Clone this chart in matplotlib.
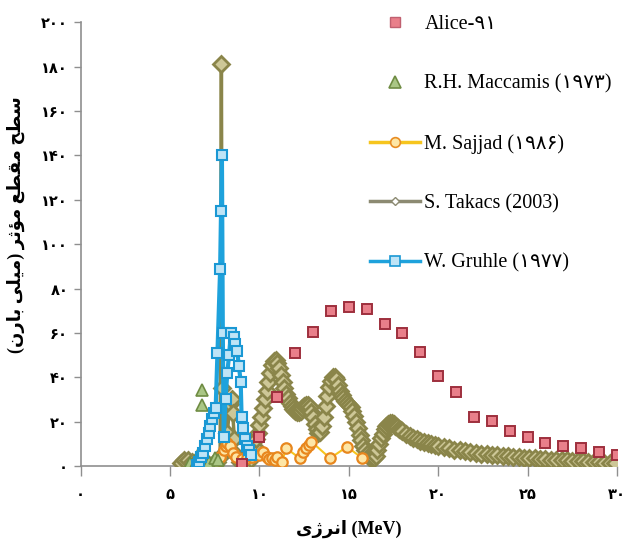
import matplotlib
matplotlib.use("Agg")
import matplotlib.pyplot as plt
from matplotlib.lines import Line2D

# ---------------- data ----------------
alice_e = [9, 10, 11, 12, 13, 14, 15, 16, 17, 18, 19, 20, 21, 22, 23, 24, 25, 26, 27, 28, 29, 30]
alice_s = [0.8, 13.2, 31.3, 51.1, 60.6, 70.0, 71.5, 70.7, 63.9, 59.8, 51.5, 40.6, 33.5, 22.3,
           20.5, 16.0, 13.2, 10.2, 9.1, 7.9, 6.4, 5.0]

maccamis_e = [6.1, 6.4, 6.58, 6.77, 6.77, 6.9, 7.2, 7.52, 7.7]
maccamis_s = [1.5, 1.0, 5.0, 27.5, 34.3, 3.0, 2.0, 3.5, 2.5]

sajjad_e = [7.5, 7.8, 8.0, 8.1, 8.2, 8.35, 8.5, 8.7, 9.0, 9.3, 9.6, 9.95, 10.2, 10.4, 10.55,
            10.7, 10.85, 11.0, 11.25, 11.5, 12.25, 12.45, 12.6, 12.75, 12.9, 13.95, 14.9, 15.75]
sajjad_s = [1.5, 4.0, 7.0, 9.0, 10.5, 9.0, 6.0, 4.0, 3.0, 3.5, 4.2, 5.0, 6.5, 4.2, 3.0,
            3.5, 2.5, 4.2, 1.9, 8.0, 3.5, 6.5, 8.0, 9.5, 11.0, 3.5, 8.7, 3.5]

takacs_e = [5.6, 5.8, 6.0, 6.2, 6.4, 6.6, 6.8, 7.0, 7.2, 7.4, 7.6, 7.8, 7.87, 7.92,
            8.2, 8.35, 8.45, 8.5, 8.6, 8.7, 8.9, 9.1, 9.3, 9.5,
            9.6, 9.7, 9.8, 9.9, 10.0, 10.1, 10.2, 10.3, 10.4, 10.5, 10.6, 10.7, 10.8, 10.9,
            11.0, 11.1, 11.2, 11.3, 11.4, 11.5, 11.6, 11.7, 11.8, 11.9,
            12.0, 12.1, 12.2, 12.3, 12.4, 12.5, 12.6, 12.7, 12.8, 12.9,
            13.0, 13.1, 13.2, 13.3, 13.4, 13.5, 13.6, 13.7, 13.8, 13.9,
            14.0, 14.1, 14.2, 14.3, 14.4, 14.5, 14.6, 14.7, 14.8, 14.9,
            15.0, 15.1, 15.2, 15.3, 15.4, 15.5, 15.6, 15.7, 15.8, 15.9,
            16.0, 16.1, 16.2, 16.3, 16.4, 16.5, 16.6, 16.7, 16.8, 16.9,
            17.0, 17.1, 17.2, 17.3, 17.4, 17.5, 17.6, 17.7, 17.8, 17.9,
            18.0, 18.2, 18.4, 18.6, 18.8, 19.0, 19.2, 19.4, 19.6, 19.8,
            20.0, 20.3, 20.6, 20.9, 21.2, 21.5, 21.8, 22.1, 22.4, 22.7,
            23.0, 23.3, 23.6, 23.9, 24.2, 24.5, 24.8, 25.1, 25.4, 25.7,
            26.0, 26.3, 26.6, 26.9, 27.2, 27.5, 27.8, 28.1, 28.4, 28.7,
            29.0, 29.3, 29.6, 29.9]
takacs_s = [1.5, 2.5, 2.5, 2.0, 1.5, 1.0, 0.5, 0.5, 0.5, 1.0, 2.0, 4.0, 181.0, 35.0,
            15.0, 28.0, 30.0, 24.0, 12.0, 5.0, 2.0, 1.5, 2.0, 3.0,
            6.0, 9.0, 12.0, 15.0, 18.5, 22.0, 26.0, 30.0, 34.0, 38.0, 42.0, 45.5, 47.5, 48.0,
            46.5, 44.0, 41.0, 38.0, 35.0, 32.5, 30.5, 28.5, 27.0, 25.5,
            24.8, 24.3, 24.3, 25.0, 26.0, 27.0, 27.5, 27.5, 26.5, 24.5,
            22.0, 19.0, 16.5, 15.0, 15.5, 18.0, 22.0, 27.0, 31.5, 35.5,
            38.5, 40.0, 40.3, 39.0, 36.5, 34.0, 32.0, 30.5, 29.5, 28.5,
            27.5, 26.5, 25.0, 22.5, 20.0, 17.0, 14.0, 11.5, 9.0, 7.0,
            5.5, 4.5, 3.8, 3.5, 3.5, 4.5, 7.0, 10.0, 12.5, 14.5,
            16.5, 18.0, 19.0, 19.3, 19.3, 18.8, 18.2, 17.5, 16.8, 16.2,
            15.6, 14.5, 13.6, 12.8, 12.1, 11.4, 10.8, 10.3, 9.8, 9.4,
            9.0, 8.4, 7.9, 7.4, 7.0, 6.6, 6.2, 5.9, 5.6, 5.3,
            5.0, 4.8, 4.6, 4.4, 4.2, 4.0, 3.8, 3.6, 3.4, 3.2,
            3.0, 2.9, 2.7, 2.6, 2.5, 2.4, 2.3, 2.1, 2.0, 1.8,
            1.6, 1.4, 1.3, 1.2]

gruhle_e = [6.5, 6.6, 6.75, 6.85, 6.95, 7.05, 7.15, 7.25, 7.35, 7.45, 7.55, 7.65, 7.8, 7.85,
            7.9, 7.95, 8.0, 8.1, 8.2, 8.3, 8.4, 8.55, 8.65, 8.75, 8.85, 8.95, 9.0, 9.1,
            9.2, 9.3, 9.4, 9.5]
gruhle_s = [0.5, 2.0, 4.0, 6.0, 9.0, 12.0, 15.0, 18.0, 21.0, 24.0, 26.0, 51.0, 89.0, 115.0,
            140.0, 60.0, 13.0, 30.0, 42.0, 50.0, 60.0, 58.0, 55.0, 52.0, 45.0, 38.0, 22.0, 17.0,
            12.0, 9.0, 7.0, 5.0]

x_ticks = [0, 5, 10, 15, 20, 25, 30]
x_ticklabels = ["۰", "۵", "۱۰", "۱۵", "۲۰", "۲۵", "۳۰"]
y_ticks = [0, 20, 40, 60, 80, 100, 120, 140, 160, 180, 200]
y_ticklabels = ["۰", "۲۰", "۴۰", "۶۰", "۸۰", "۱۰۰", "۱۲۰", "۱۴۰", "۱۶۰", "۱۸۰", "۲۰۰"]

labels = ["Alice-۹۱", "R.H. Maccamis (۱۹۷۳)", "M. Sajjad (۱۹۸۶)", "S. Takacs (2003)",
          "W. Gruhle (۱۹۷۷)"]
xlabel_fa = "انرژی"
xlabel_unit = " (MeV)"
ylabel_fa = "سطح مقطع مؤثر (میلی بارن)"

# ------------- minimal Persian shaping (presentation forms, visual order) -------------
FORMS = {
    'ا': ('\uFE8D', '\uFE8E', None, None),
    'ب': ('\uFE8F', '\uFE90', '\uFE91', '\uFE92'),
    'ث': ('\uFE99', '\uFE9A', '\uFE9B', '\uFE9C'),
    'ح': ('\uFEA1', '\uFEA2', '\uFEA3', '\uFEA4'),
    'ر': ('\uFEAD', '\uFEAE', None, None),
    'ژ': ('\uFB8A', '\uFB8B', None, None),
    'س': ('\uFEB1', '\uFEB2', '\uFEB3', '\uFEB4'),
    'ط': ('\uFEC1', '\uFEC2', '\uFEC3', '\uFEC4'),
    'ع': ('\uFEC9', '\uFECA', '\uFECB', '\uFECC'),
    'ق': ('\uFED5', '\uFED6', '\uFED7', '\uFED8'),
    'ل': ('\uFEDD', '\uFEDE', '\uFEDF', '\uFEE0'),
    'م': ('\uFEE1', '\uFEE2', '\uFEE3', '\uFEE4'),
    'ن': ('\uFEE5', '\uFEE6', '\uFEE7', '\uFEE8'),
    'ؤ': ('\uFE85', '\uFE86', None, None),
    'ی': ('\uFBFC', '\uFBFD', '\uFBFE', '\uFBFF'),
}


def shape_rtl(text):
    out = []
    n = len(text)
    for i, ch in enumerate(text):
        if ch not in FORMS:
            out.append(ch)
            continue
        prev = text[i - 1] if i > 0 else ''
        nxt = text[i + 1] if i < n - 1 else ''
        jp = prev in FORMS and FORMS[prev][2] is not None
        jn = nxt in FORMS and FORMS[ch][2] is not None
        iso, fin, ini, med = FORMS[ch]
        if jp and jn:
            out.append(med)
        elif jp:
            out.append(fin)
        elif jn:
            out.append(ini)
        else:
            out.append(iso)
    vis = ''.join(reversed(out))
    return vis.translate(str.maketrans({'(': ')', ')': '('}))


# ---------------- figure ----------------
fig = plt.figure(figsize=(6.27, 5.44), dpi=100)
ax = fig.add_axes([80.7 / 627, 78 / 544, (617 - 80.7) / 627, (466 - 22.3) / 544])

c_tak = '#8a854a'
ax.plot(takacs_e, takacs_s, color=c_tak, lw=2.5, marker='D', ms=8, mfc='#cdc797',
        mec=c_tak, mew=2.0, zorder=2)
ax.plot(sajjad_e, sajjad_s, color='#f6c51e', lw=1.5, marker='o', ms=7.5, mfc='#fde6a6',
        mec='#e8871e', mew=1.6, zorder=3)
ax.plot(maccamis_e, maccamis_s, ls='none', marker='^', ms=9, mfc='#aac685', mec='#6f8c43',
        mew=1.2, zorder=4)
ax.plot(gruhle_e, gruhle_s, color='#1ea2dc', lw=3, marker='s', ms=6.5, mfc='#bfe4f6',
        mec='#1a98d4', mew=1.5, zorder=5)
ax.plot(alice_e, alice_s, ls='none', marker='s', ms=7.5, mfc='#e97f8a', mec='#9e2f3d',
        mew=1.4, zorder=6)

ax.set_xlim(0, 30)
ax.set_ylim(0, 200)
for s in ['top', 'right']:
    ax.spines[s].set_visible(False)
for s in ['left', 'bottom']:
    ax.spines[s].set_color('#8f8f8f')
    ax.spines[s].set_linewidth(1.2)
    ax.spines[s].set_zorder(1)

ax.set_xticks(x_ticks)
ax.set_xticklabels(x_ticklabels)
ax.set_yticks(y_ticks)
ax.set_yticklabels(y_ticklabels)
ax.tick_params(axis='x', direction='out', length=7, width=1, color='#8f8f8f', pad=8)
ax.tick_params(axis='y', direction='out', length=5, width=1, color='#8f8f8f', pad=4)
for t in ax.get_xticklabels() + ax.get_yticklabels():
    t.set_fontfamily('DejaVu Sans')
    t.set_fontweight('bold')
    t.set_fontsize(10.5)

lab_font = ['Liberation Serif', 'DejaVu Sans']
ax.set_xlabel(shape_rtl(xlabel_fa) + xlabel_unit, family=lab_font, fontweight='bold',
              fontsize=13, va='center')
ax.xaxis.set_label_coords(0.5, -(529 - 466) / 443.7)
ax.set_ylabel(shape_rtl(ylabel_fa), family=lab_font, fontweight='bold', fontsize=13,
              va='center', ha='center')
ax.yaxis.set_label_coords((16 - 80.7) / 536.3, (466 - 225) / 443.7)

handles = [
    Line2D([], [], ls='none', marker='s', ms=7.5, mfc='#e97f8a', mec='#c06070', mew=1),
    Line2D([], [], ls='none', marker='^', ms=9, mfc='#aac685', mec='#6f8c43', mew=1.2),
    Line2D([], [], color='#f6c51e', lw=2.5, marker='o', ms=7, mfc='#fde6a6', mec='#e88c22',
           mew=1.2),
    Line2D([], [], color='#8c8a72', lw=2.5, marker='D', ms=4.5, mfc='white', mec='#8c8a72',
           mew=1),
    Line2D([], [], color='#1ea2dc', lw=2.5, marker='s', ms=7, mfc='#bfe4f6', mec='#1a98d4',
           mew=1.2),
]
fig.legend(handles, labels, loc='upper left', bbox_to_anchor=(370 / 627, 1 - 15 / 544),
           frameon=False, borderpad=0, borderaxespad=0, handlelength=2.5,
           handletextpad=0.2, labelspacing=2.0, numpoints=1,
           prop={'family': lab_font, 'size': 14.5})

fig.savefig('out.png', dpi=100)
